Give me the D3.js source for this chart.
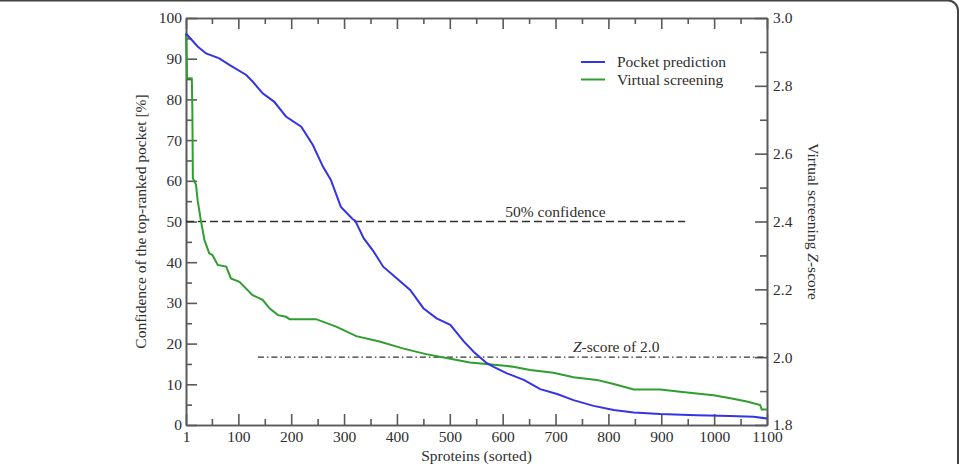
<!DOCTYPE html>
<html>
<head>
<meta charset="utf-8">
<script src="https://cdn.jsdelivr.net/npm/d3@7"></script>
<style>
  body { margin: 0; background: #fff; }
  svg { display: block; font-family: "Liberation Serif", "DejaVu Serif", serif; }
</style>
</head>
<body>
<div class="main"></div>
<script>
// Pocket prediction: rank vs confidence [%]
const pocketRank = [1, 23, 39, 64, 83, 115, 127, 146, 168, 190, 219, 241, 260, 275, 294, 316, 321, 337, 356, 374, 400, 425, 450, 475, 501, 526, 545, 570, 583, 608, 640, 671, 703, 734, 772, 810, 848, 898, 967, 1030, 1075, 1100]
const pocketConf = [96.2, 93.0, 91.3, 90.1, 88.5, 86.0, 84.4, 81.5, 79.4, 75.8, 73.3, 68.8, 63.5, 60.2, 53.6, 50.6, 50.2, 45.9, 42.6, 38.9, 36.0, 33.2, 28.7, 26.2, 24.6, 20.6, 18.0, 15.2, 14.3, 12.7, 11.1, 8.8, 7.6, 6.1, 4.7, 3.7, 3.1, 2.7, 2.4, 2.2, 2.0, 1.6]

// Virtual screening: rank vs Z-score
const screenRank = [1, 2, 3, 12, 13, 14, 20, 23, 29, 36, 45, 51, 61, 77, 86, 102, 127, 146, 159, 175, 190, 197, 247, 285, 323, 367, 411, 455, 506, 538, 589, 620, 652, 696, 734, 778, 810, 848, 898, 936, 967, 999, 1031, 1062, 1087, 1090, 1100]
const screenZ = [2.956, 2.891, 2.823, 2.822, 2.729, 2.528, 2.508, 2.463, 2.404, 2.345, 2.306, 2.301, 2.272, 2.267, 2.232, 2.222, 2.183, 2.169, 2.144, 2.124, 2.119, 2.112, 2.112, 2.090, 2.062, 2.046, 2.026, 2.009, 1.994, 1.984, 1.977, 1.972, 1.962, 1.954, 1.941, 1.933, 1.921, 1.905, 1.905, 1.898, 1.893, 1.888, 1.879, 1.869, 1.859, 1.846, 1.846]

const xTicks = [1, 100, 200, 300, 400, 500, 600, 700, 800, 900, 1000, 1100]
const xMinor = [50, 150, 250, 350, 450, 550, 650, 750, 850, 950, 1050]
const leftTicks = [0, 10, 20, 30, 40, 50, 60, 70, 80, 90, 100]
const leftMinor = [5, 15, 25, 35, 45, 55, 65, 75, 85, 95]
const rightTicks = [1.8, 2.0, 2.2, 2.4, 2.6, 2.8, 3.0]
const rightMinor = [1.9, 2.1, 2.3, 2.5, 2.7, 2.9]
const seriesNames = ["Pocket prediction", "Virtual screening"]
const seriesColors = ["#3434e6", "#2f9e2f"]

const width = 959, height = 464
const margin = ({top: 18, right: 192, bottom: 39, left: 186})
const axisColor = "#5a5a5a"
const textColor = "#2e2e2e"
const fontSize = 15.5

const x = d3.scaleLinear().domain([1, 1100]).range([margin.left, width - margin.right])
const yLeft = d3.scaleLinear().domain([0, 100]).range([height - margin.bottom, margin.top])
const yRight = d3.scaleLinear().domain([1.8, 3.0]).range([height - margin.bottom, margin.top])

const svg = d3.select(".main").append("svg")
    .attr("width", width)
    .attr("height", height)

// outer rounded frame
svg.append("rect")
    .attr("x", -12)
    .attr("y", 0.5)
    .attr("width", 970)
    .attr("height", 600)
    .attr("rx", 10)
    .attr("fill", "none")
    .attr("stroke", "#444")
    .attr("stroke-width", 2)

function styleAxis(g) {
    g.attr("color", axisColor)
        .attr("font-size", fontSize)
        .attr("font-family", "Liberation Serif, serif")
    g.select(".domain").attr("stroke-width", 1.6)
    g.selectAll(".tick line").attr("stroke-width", 1.6)
    g.selectAll(".tick text").attr("fill", textColor)
}

const bottom = height - margin.bottom
const right = width - margin.right

// bottom axis
svg.append("g")
    .attr("transform", `translate(0, ${bottom})`)
    .call(d3.axisBottom(x).tickValues(xTicks).tickFormat(d3.format("d")).tickSize(-11).tickSizeOuter(0).tickPadding(6))
    .call(styleAxis)
svg.append("g")
    .attr("transform", `translate(0, ${bottom})`)
    .call(d3.axisBottom(x).tickValues(xMinor).tickFormat("").tickSize(-6).tickSizeOuter(0))
    .call(styleAxis)

// top axis (mirror ticks)
svg.append("g")
    .attr("transform", `translate(0, ${margin.top})`)
    .call(d3.axisTop(x).tickValues(xTicks).tickFormat("").tickSize(-11).tickSizeOuter(0))
    .call(styleAxis)
svg.append("g")
    .attr("transform", `translate(0, ${margin.top})`)
    .call(d3.axisTop(x).tickValues(xMinor).tickFormat("").tickSize(-6).tickSizeOuter(0))
    .call(styleAxis)

// left axis
svg.append("g")
    .attr("transform", `translate(${margin.left}, 0)`)
    .call(d3.axisLeft(yLeft).tickValues(leftTicks).tickSize(-11).tickSizeOuter(0).tickPadding(4))
    .call(styleAxis)
svg.append("g")
    .attr("transform", `translate(${margin.left}, 0)`)
    .call(d3.axisLeft(yLeft).tickValues(leftMinor).tickFormat("").tickSize(-6).tickSizeOuter(0))
    .call(styleAxis)

// right axis
svg.append("g")
    .attr("transform", `translate(${right}, 0)`)
    .call(d3.axisRight(yRight).tickValues(rightTicks).tickFormat(d3.format(".1f")).tickSize(-12).tickSizeOuter(0).tickPadding(6))
    .call(styleAxis)
svg.append("g")
    .attr("transform", `translate(${right}, 0)`)
    .call(d3.axisRight(yRight).tickValues(rightMinor).tickFormat("").tickSize(-7).tickSizeOuter(0))
    .call(styleAxis)

// axis titles
svg.append("text")
    .text("Sproteins (sorted)")
    .attr("x", (margin.left + right) / 2)
    .attr("y", 461)
    .attr("text-anchor", "middle")
    .attr("font-size", fontSize)
    .attr("fill", textColor)

svg.append("text")
    .text("Confidence of the top-ranked pocket [%]")
    .attr("transform", `translate(146, ${(margin.top + bottom) / 2}) rotate(-90)`)
    .attr("text-anchor", "middle")
    .attr("font-size", fontSize)
    .attr("fill", textColor)

const rLabel = svg.append("text")
    .attr("transform", `translate(808, ${(margin.top + bottom) / 2}) rotate(90)`)
    .attr("text-anchor", "middle")
    .attr("font-size", fontSize)
    .attr("fill", textColor)
rLabel.append("tspan").text("Virtual screening ")
rLabel.append("tspan").text("Z").attr("font-style", "italic")
rLabel.append("tspan").text("-score")

// reference lines
svg.append("line")
    .attr("x1", x(1)).attr("x2", x(945))
    .attr("y1", yLeft(50)).attr("y2", yLeft(50))
    .attr("stroke", "#333")
    .attr("stroke-width", 1.4)
    .attr("stroke-dasharray", "8,4")

svg.append("text")
    .text("50% confidence")
    .attr("x", x(605))
    .attr("y", yLeft(50) - 5)
    .attr("font-size", fontSize)
    .attr("fill", textColor)

svg.append("line")
    .attr("x1", x(137)).attr("x2", x(1100))
    .attr("y1", yRight(2.0)).attr("y2", yRight(2.0))
    .attr("stroke", "#333")
    .attr("stroke-width", 1.4)
    .attr("stroke-dasharray", "6,3,1.5,3")

const zText = svg.append("text")
    .attr("x", x(733))
    .attr("y", yRight(2.0) - 5)
    .attr("font-size", fontSize)
    .attr("fill", textColor)
zText.append("tspan").text("Z").attr("font-style", "italic")
zText.append("tspan").text("-score of 2.0")

// series lines
const pocketLine = d3.line()
    .x((d, i) => x(pocketRank[i]))
    .y(d => yLeft(d))

const screenLine = d3.line()
    .x((d, i) => x(screenRank[i]))
    .y(d => yRight(d))

svg.append("path")
    .datum(screenZ)
    .attr("d", screenLine)
    .attr("fill", "none")
    .attr("stroke", seriesColors[1])
    .attr("stroke-width", 2)

svg.append("path")
    .datum(pocketConf)
    .attr("d", pocketLine)
    .attr("fill", "none")
    .attr("stroke", seriesColors[0])
    .attr("stroke-width", 2)

// legend
const legend = svg.append("g")
    .attr("transform", "translate(581, 62)")

legend.selectAll("g")
    .data(seriesNames)
    .join("g")
        .attr("transform", (d, i) => `translate(0, ${i * 17.5})`)
        .each(function (d, i) {
            const g = d3.select(this)
            g.append("line")
                .attr("x1", 0).attr("x2", 24)
                .attr("stroke", seriesColors[i])
                .attr("stroke-width", 2)
            g.append("text")
                .text(d)
                .attr("x", 36)
                .attr("dy", "0.33em")
                .attr("font-size", fontSize)
                .attr("fill", textColor)
        })
</script>
</body>
</html>
